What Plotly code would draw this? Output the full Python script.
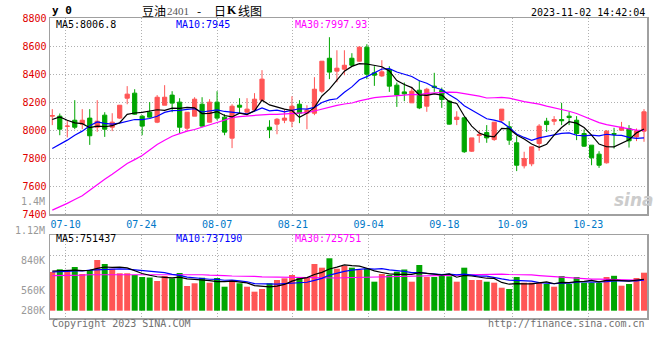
import plotly.graph_objects as go
import pandas as pd

# ---------------- data ----------------
opens = [8100, 8100, 8027, 8071, 8043, 8086, 8021, 8107, 8021, 8086,
         8228, 8264, 8100, 8128, 8057, 8178, 8250, 8200, 8014, 8100,
         8185, 8057, 8200, 8093, 7943, 8178, 8128, 8143, 8214, 8021,
         8043, 8071, 8064, 8185, 8121, 8121, 8278, 8513, 8421, 8435,
         8513, 8492, 8592, 8409, 8387, 8433, 8321, 8273, 8195, 8285,
         8171, 8314, 8285, 8207, 8076, 8088, 7850, 7962, 7983, 7933,
         8071, 8024, 7910, 7746, 7760, 7905, 8064, 8064, 8076, 8100,
         8071, 7976, 7893, 7829, 7767, 7976, 8000, 8012, 7952, 7993]
highs = [8150, 8119, 8071, 8214, 8150, 8150, 8214, 8128, 8121, 8178,
         8314, 8292, 8107, 8200, 8250, 8321, 8278, 8228, 8128, 8235,
         8235, 8221, 8278, 8114, 8185, 8228, 8228, 8264, 8428, 8071,
         8086, 8150, 8242, 8214, 8178, 8378, 8492, 8663, 8570, 8570,
         8549, 8600, 8613, 8456, 8499, 8456, 8340, 8340, 8309, 8356,
         8302, 8409, 8304, 8214, 8135, 8095, 7945, 8000, 8036, 8057,
         8150, 8064, 7957, 7846, 7881, 8043, 8088, 8100, 8195, 8131,
         8100, 8005, 7893, 7850, 8000, 8017, 8059, 8036, 8012, 8150]
lows = [8036, 7964, 7948, 8007, 8007, 7895, 7988, 7952, 7993, 8080,
        8185, 8110, 7964, 8090, 8050, 8178, 8128, 7979, 7993, 8100,
        8021, 8055, 8071, 7964, 7872, 8121, 8121, 8140, 8207, 7943,
        7971, 8050, 8021, 8050, 8007, 8107, 8264, 8364, 8342, 8392,
        8456, 8490, 8364, 8316, 8380, 8273, 8166, 8207, 8195, 8150,
        8131, 8273, 8159, 8040, 8036, 7838, 7845, 7910, 7910, 7924,
        8055, 7895, 7708, 7727, 7743, 7853, 7988, 8036, 8036, 8036,
        7929, 7881, 7750, 7731, 7762, 7869, 7995, 7876, 7922, 7917]
closes = [8104, 8007, 8029, 8021, 8071, 7960, 8064, 8007, 8057, 8178,
          8257, 8114, 8029, 8093, 8235, 8235, 8193, 8021, 8128, 8221,
          8029, 8200, 8086, 7986, 8171, 8164, 8150, 8221, 8364, 8002,
          8078, 8086, 8171, 8121, 8143, 8292, 8492, 8414, 8442, 8463,
          8463, 8592, 8399, 8392, 8416, 8314, 8250, 8259, 8278, 8159,
          8292, 8304, 8219, 8043, 8093, 7846, 7945, 7969, 7945, 8057,
          8150, 7929, 7750, 7798, 7881, 8029, 8040, 8076, 8067, 8090,
          7976, 7886, 7803, 7750, 7993, 7971, 8021, 7924, 7995, 8131]
volumes_k = [926, 990, 950, 1045, 878, 974, 1213, 1117, 1005, 895,
             895, 854, 806, 794, 711, 830, 775, 902, 591, 656,
             789, 670, 782, 574, 734, 656, 574, 455, 519, 656,
             734, 775, 854, 789, 799, 1117, 1029, 1254, 1005, 1069,
             1029, 974, 998, 694, 878, 854, 933, 986, 694, 1093,
             806, 806, 873, 823, 694, 1029, 734, 734, 694, 670,
             550, 519, 806, 670, 670, 670, 639, 574, 830, 639,
             806, 670, 670, 670, 806, 835, 598, 639, 782, 909]

# moving-average values before enough in-view history exists
ma5_head = [8076, 8095, 8071, 8052]
ma10_head = [7869, 7898, 7929, 7964, 7993, 8031, 8059, 8048, 8043]
ma30_head = [7430, 7453, 7478, 7505, 7532, 7572, 7613, 7650, 7686, 7724,
             7762, 7790, 7819, 7858, 7898, 7928, 7957, 7975, 7993, 8005,
             8020, 8036, 8055, 8072, 8090, 8097, 8102, 8107, 8110]
vma5_head = [950, 960, 960, 970]
vma10_head = [930, 930, 940, 950, 950, 970, 980, 990, 990]
vma30_head = [840, 840, 850, 850, 850, 860, 860, 870, 870, 870,
              870, 870, 870, 870, 870, 870, 870, 870, 870, 860,
              860, 850, 850, 840, 830, 830, 820, 820, 810]

tick_index = [2, 12, 22, 32, 42, 52, 61, 71]
tick_labels = ["07-10", "07-24", "08-07", "08-21", "09-04", "09-18", "10-09", "10-23"]

price_ticks = [7400, 7600, 7800, 8000, 8200, 8400, 8600, 8800]

# ---------------- derived ----------------
n = len(closes)
xs = list(range(n))
cs = pd.Series(closes, dtype=float)
vs = pd.Series(volumes_k, dtype=float) * 1000


def with_head(series, win, head, scale=1.0):
    m = series.rolling(win).mean().tolist()
    for i, h in enumerate(head):
        m[i] = h * scale
    return m


ma5 = with_head(cs, 5, ma5_head)
ma10 = with_head(cs, 10, ma10_head)
ma30 = with_head(cs, 30, ma30_head)
vma5 = with_head(vs, 5, vma5_head, 1000)
vma10 = with_head(vs, 10, vma10_head, 1000)
vma30 = with_head(vs, 30, vma30_head, 1000)

RED = "#ff5555"
GREEN = "#00a600"
vol_colors = [RED if c >= o else GREEN for o, c in zip(opens, closes)]

# gridline positions (sina spaces date grid slightly wider than candles)
grid_pos = [1.78 + (k - 2) * 1.0113 for k in tick_index]

# ---------------- figure ----------------
L, R, T, B = 50, 11, 18, 42
W, H = 660, 360
PW, PH = W - L - R, H - T - B


def px_x(px):
    return (px - L) / PW


def px_y(py):
    return (H - B - py) / PH


fig = go.Figure()
fig.add_trace(go.Candlestick(
    x=xs, open=opens, high=highs, low=lows, close=closes,
    increasing=dict(line=dict(color=RED, width=1), fillcolor=RED),
    decreasing=dict(line=dict(color=GREEN, width=1), fillcolor=GREEN),
    whiskerwidth=0, xaxis="x", yaxis="y", hoverinfo="skip", showlegend=False))
for vals, col in [(ma30, "#ff00ff"), (ma10, "#0000ff"), (ma5, "#000000")]:
    fig.add_trace(go.Scatter(x=xs, y=vals, mode="lines", line=dict(color=col, width=1.2),
                             xaxis="x", yaxis="y", hoverinfo="skip", showlegend=False))

fig.add_trace(go.Bar(x=xs, y=vs.tolist(), marker=dict(color=vol_colors, line=dict(width=0)),
                     width=0.8, xaxis="x2", yaxis="y2", hoverinfo="skip", showlegend=False))
for vals, col in [(vma30, "#ff00ff"), (vma10, "#0000ff"), (vma5, "#000000")]:
    fig.add_trace(go.Scatter(x=xs, y=vals, mode="lines", line=dict(color=col, width=1.2),
                             xaxis="x2", yaxis="y2", hoverinfo="skip", showlegend=False))

GRID = "#b0b0b0"
BORDER = "#a0a0a0"
MONO = "DejaVu Sans Mono"
CJK = "Noto Sans CJK SC"
xr = [-0.306, 79.4]
main_bottom = px_y(214.3)
vol_top = px_y(235)

vol_lo = -7.3 / 41.8 * 1e6
vol_hi = 75.7 / 41.8 * 1e6
vol_grid = [(310.7 - 255) / 41.8 * 1e6, (310.7 - 295.7) / 41.8 * 1e6]

fig.update_layout(
    width=W, height=H, margin=dict(l=L, r=R, t=T, b=B),
    paper_bgcolor="white", plot_bgcolor="white",
    showlegend=False, boxgap=0.2, bargap=0.2,
    xaxis=dict(domain=[0, 1], anchor="y", range=xr, tickmode="array",
               tickvals=grid_pos, ticktext=tick_labels, showgrid=True,
               gridcolor=GRID, griddash="1px,2px", gridwidth=1,
               showline=True, mirror=True, linecolor=BORDER, linewidth=1.5,
               ticks="", zeroline=False, rangeslider=dict(visible=False),
               tickfont=dict(family=MONO, size=10, color="#0078c8")),
    xaxis2=dict(domain=[0, 1], anchor="y2", range=xr, matches="x", tickmode="array",
                tickvals=grid_pos, showticklabels=False, showgrid=True,
                gridcolor=GRID, griddash="1px,2px", gridwidth=1,
                showline=True, mirror=True, linecolor=BORDER, linewidth=1.5,
                ticks="", zeroline=False),
    yaxis=dict(domain=[main_bottom, 1], anchor="x", range=[7400, 8800],
               tickmode="array", tickvals=price_ticks,
               ticktext=[str(v) for v in price_ticks],
               showgrid=True, gridcolor=GRID, griddash="1px,2px", gridwidth=1,
               showline=True, mirror=True, linecolor=BORDER, linewidth=1.5,
               ticks="", zeroline=False,
               tickfont=dict(family=MONO, size=10, color="#e00000")),
    yaxis2=dict(domain=[0, vol_top], anchor="x2", range=[vol_lo, vol_hi],
                tickmode="array", tickvals=vol_grid, showticklabels=False,
                showgrid=True, gridcolor=GRID, griddash="1px,2px", gridwidth=1,
                showline=True, mirror=True, linecolor=BORDER, linewidth=1.5,
                ticks="", zeroline=False),
)

ann = []


def text(s, px, py, color="#000", size=10, anchor="left", family=MONO, **kw):
    ann.append(dict(text=s, x=px_x(px), y=px_y(py), xref="paper", yref="paper",
                    xanchor=anchor, yanchor="middle", showarrow=False,
                    font=dict(family=family, size=size, color=color), **kw))


# header
text("<b>y 0</b>", 50, 11, size=11)
text("豆油", 140, 10, size=12, family=CJK)
text("2401", 165, 10.5, size=11, family="Liberation Serif", color="#555")
text("-", 200, 10, size=12, family=CJK, anchor="center")
text("日", 212.5, 10, size=12, family=CJK)
text("<b>K</b>", 226, 10, size=12, family="Liberation Serif")
text("线图", 236.5, 10, size=12, family=CJK)
text("2023-11-02 14:42:04", 649.5, 12.5, anchor="right")

# main legend
text("MA5:8006.8", 54, 24)
text("MA10:7945", 174, 24, color="#0000ff")
text("MA30:7997.93", 294, 24, color="#ff00ff")

# volume legend
text("MA5:751437", 54, 238.5)
text("MA10:737190", 174, 238.5, color="#0000ff")
text("MA30:725751", 294, 238.5, color="#ff00ff")

# volume scale labels
for s, py in [("1.4M", 201), ("1.12M", 230.3), ("840K", 260.3), ("560K", 290.3), ("280K", 310.7)]:
    text(s, 46.5, py, color="#999", anchor="right")

# footer
text("Copyright 2023 SINA.COM", 49.5, 323.3, color="#707070")
text("http://finance.sina.com.cn", 649.5, 323.3, color="#707070", anchor="right")

# watermark
text("<b><i>sina</i></b>", 636, 200, color="#cccccc", size=17, anchor="center", family="DejaVu Sans")

fig.update_layout(annotations=ann)
fig.write_html("out.html", config={"displayModeBar": False, "staticPlot": True},
               post_script="document.body.style.margin='0';document.body.style.padding='0';")
